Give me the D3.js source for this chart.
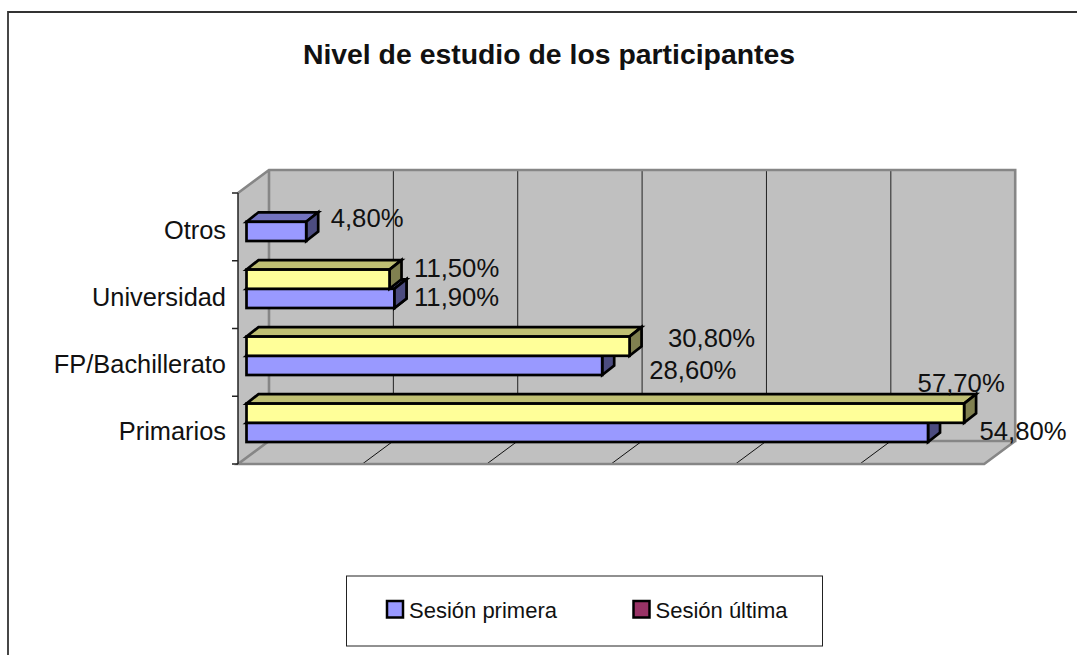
<!DOCTYPE html>
<html>
<head>
<meta charset="utf-8">
<script src="https://cdn.jsdelivr.net/npm/d3@7"></script>
<style>
  html, body { margin: 0; padding: 0; background: #fff; }
  text { font-family: "Liberation Sans", Arial, sans-serif; fill: #111; }
</style>
</head>
<body>
<div id="chart"></div>
<script>
// Values (percent)
const categories = ["Primarios", "FP/Bachillerato", "Universidad", "Otros"];
const sesionPrimera = [54.8, 28.6, 11.9, 4.8];
const sesionUltima = [57.7, 30.8, 11.5, null];
const valueTicks = [0, 10, 20, 30, 40, 50, 60];
const legendLabels = ["Sesión primera", "Sesión última"];

const width = 1077;
const height = 655;

// 3D projection of the plot box
const wallDepth = { x: 31, y: -23 };
const barInset = 8.5;
const barDepth = { x: 12, y: -9.5 };
const barH = 19.2;

const x = d3.scaleLinear().domain([0, 60]).range([238, 984.2]);
const y = d3.scaleBand().domain(categories).range([464, 193]);
// the bars and their labels sit on a slightly tighter step than the ticks
const yBar = d3.scalePoint().domain(categories).range([442, 241]);
const yLabel = d3.scalePoint().domain(categories).range([431, 230]);

const svg = d3.select("#chart").append("svg")
  .attr("width", width)
  .attr("height", height)
  .style("display", "block");

// outer chart border, only left and top are in frame
svg.append("path")
  .attr("d", `M8,${height}V12H${width}`)
  .attr("fill", "none")
  .attr("stroke", "#333")
  .attr("stroke-width", 1.8);

svg.append("text")
  .attr("x", 549)
  .attr("y", 64)
  .attr("text-anchor", "middle")
  .attr("font-weight", "bold")
  .attr("font-size", 28.4)
  .text("Nivel de estudio de los participantes");

const x0 = x(0), x1 = x(60), yBottom = y.range()[0], yTop = y.range()[1];
const dx = wallDepth.x, dy = wallDepth.y;

// walls and floor
const wall = svg.append("g");
wall.append("path")
  .attr("d", `M${x0},${yTop}L${x0 + dx},${yTop + dy}H${x1 + dx}V${yBottom + dy}L${x1},${yBottom}H${x0}Z`)
  .attr("fill", "#c0c0c0");

wall.selectAll("line.grid")
  .data(valueTicks.slice(1, -1))
  .join("line")
  .attr("class", "grid")
  .attr("x1", d => x(d) + dx)
  .attr("x2", d => x(d) + dx)
  .attr("y1", yTop + dy)
  .attr("y2", yBottom + dy)
  .attr("stroke", "#222")
  .attr("stroke-width", 1);

wall.selectAll("line.floor")
  .data(valueTicks.slice(1, -1))
  .join("line")
  .attr("class", "floor")
  .attr("x1", d => x(d))
  .attr("x2", d => x(d) + dx)
  .attr("y1", yBottom)
  .attr("y2", yBottom + dy)
  .attr("stroke", "#111")
  .attr("stroke-width", 1);

wall.append("path")
  .attr("d", `M${x0},${yTop}L${x0 + dx},${yTop + dy}H${x1 + dx}V${yBottom + dy}H${x0 + dx}V${yTop + dy}M${x0 + dx},${yBottom + dy}L${x0},${yBottom}H${x1}L${x1 + dx},${yBottom + dy}`)
  .attr("fill", "none")
  .attr("stroke", "#868686")
  .attr("stroke-width", 2.6);

// category axis
const axisG = svg.append("g")
  .attr("transform", `translate(${x0},0)`)
  .call(d3.axisLeft(yLabel).tickSize(0).tickPadding(12));
axisG.select(".domain").remove();
axisG.selectAll("text")
  .attr("font-size", 25.4)
  .attr("font-family", '"Liberation Sans", Arial, sans-serif')
  .attr("fill", "#111");

svg.append("line")
  .attr("x1", x0)
  .attr("x2", x0)
  .attr("y1", yTop)
  .attr("y2", yBottom)
  .attr("stroke", "#222")
  .attr("stroke-width", 1.5);

svg.selectAll("line.cat-tick")
  .data(d3.range(categories.length + 1))
  .join("line")
  .attr("class", "cat-tick")
  .attr("x1", x0 - 6)
  .attr("x2", x0)
  .attr("y1", i => yBottom - i * y.step())
  .attr("y2", i => yBottom - i * y.step())
  .attr("stroke", "#222")
  .attr("stroke-width", 1.5);

const blue = { front: "#9999ff", top: "#7373bf", side: "#4c4c80" };
const yellow = { front: "#ffff99", top: "#bfbf73", side: "#808050" };
const ddx = barDepth.x, ddy = barDepth.y;

function barBox(cat, value, row) {
  const bottom = yBar(cat) - row * barH;
  return { left: x(0) + barInset, right: x(value) + barInset, top: bottom - barH, bottom };
}

function barGroup(g) {
  return g.append("g")
    .attr("stroke", "#000")
    .attr("stroke-width", 2.7)
    .attr("stroke-linejoin", "miter");
}

function drawSide(g, b, colors) {
  barGroup(g).append("path")
    .attr("d", `M${b.right},${b.top}L${b.right + ddx},${b.top + ddy}V${b.bottom + ddy}L${b.right},${b.bottom}Z`)
    .attr("fill", colors.side);
}

function drawBar(g, b, colors) {
  const s = barGroup(g);
  s.append("path")
    .attr("d", `M${b.left},${b.top}L${b.left + ddx},${b.top + ddy}H${b.right + ddx}L${b.right},${b.top}Z`)
    .attr("fill", colors.top);
  drawSide(g, b, colors);
  barGroup(g).append("rect")
    .attr("x", b.left)
    .attr("y", b.top)
    .attr("width", b.right - b.left)
    .attr("height", b.bottom - b.top)
    .attr("fill", colors.front);
}

const bars = svg.append("g");
categories.forEach((cat, i) => {
  const first = barBox(cat, sesionPrimera[i], 0);
  drawBar(bars, first, blue);
  if (sesionUltima[i] == null) return;
  drawBar(bars, barBox(cat, sesionUltima[i], 1), yellow);
  // when the lower bar is the longer one its side shows in front of the upper bar
  if (sesionPrimera[i] > sesionUltima[i]) drawSide(bars, first, blue);
});

// data labels keep the hand-placed look of the original: offset from bar end and band centre
const primeraNudge = [[51.5, 10], [47, 16.6], [19.5, 11.4], [24.5, 0]];
const ultimaNudge = [[-46.5, -38], [38.5, -15.4], [24.5, -17.6]];

function drawLabels(values, nudges) {
  values.forEach((v, i) => {
    if (v == null) return;
    const cat = categories[i];
    svg.append("text")
      .attr("x", x(v) + barInset + nudges[i][0])
      .attr("y", y(cat) + y.bandwidth() / 2 + nudges[i][1])
      .attr("font-size", 25.7)
      .text(v.toFixed(2).replace(".", ",") + "%");
  });
}
drawLabels(sesionPrimera, primeraNudge);
drawLabels(sesionUltima, ultimaNudge);

// legend
const legend = svg.append("g");
legend.append("rect")
  .attr("x", 346.5)
  .attr("y", 576)
  .attr("width", 476)
  .attr("height", 70)
  .attr("fill", "#fff")
  .attr("stroke", "#222")
  .attr("stroke-width", 1);

const legendColors = ["#9999ff", "#993366"];
const legendX = d3.scalePoint().domain(legendLabels).range([386, 632.5]);
legendLabels.forEach((label, i) => {
  legend.append("rect")
    .attr("x", legendX(label) + 1)
    .attr("y", 601)
    .attr("width", 16)
    .attr("height", 16.5)
    .attr("fill", legendColors[i])
    .attr("stroke", "#000")
    .attr("stroke-width", 2.5);
  legend.append("text")
    .attr("x", legendX(label) + 23)
    .attr("y", 618)
    .attr("font-size", 22)
    .text(label);
});
</script>
</body>
</html>
